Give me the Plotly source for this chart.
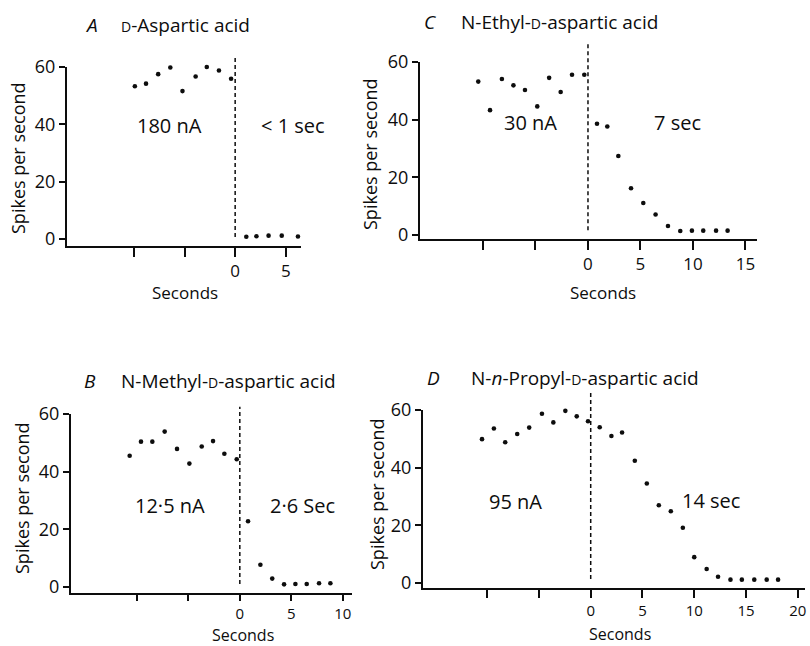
import plotly.graph_objects as go

W, H = 810, 646
FONT = "Open Sans, Lato, sans-serif"
INK = "#0d0d0d"

# ---------------- data (seconds, spikes per second) ----------------
a_t = [-11.1, -9.9, -8.8, -7.6, -6.4, -5.2, -3.9, -2.8, -1.6, -0.4,
       1.1, 2.1, 3.3, 4.6, 6.2]
a_v = [60.3, 53.3, 54.2, 57.5, 59.8, 51.6, 56.7, 60.0, 58.8, 55.9,
       0.8, 1.0, 1.2, 1.2, 0.9]

b_t = [-10.7, -9.6, -8.5, -7.3, -6.1, -4.9, -3.7, -2.6, -1.5, -0.3,
       0.8, 2.0, 3.15, 4.3, 5.4, 6.5, 7.7, 8.8]
b_v = [45.5, 50.4, 50.4, 53.9, 47.9, 42.8, 48.7, 50.6, 46.2, 44.3,
       22.8, 7.7, 2.9, 0.9, 1.0, 1.0, 1.3, 1.3]

c_t = [-10.45, -9.33, -8.2, -7.1, -6.0, -4.83, -3.7, -2.6, -1.52, -0.35,
       0.86, 1.84, 2.89, 4.1, 5.27, 6.44, 7.62, 8.79, 9.9, 10.98, 12.2, 13.3]
c_v = [53.2, 43.3, 54.1, 51.9, 50.3, 44.6, 54.5, 49.6, 55.6, 55.6,
       38.6, 37.6, 27.4, 16.2, 11.1, 7.1, 3.1, 1.4, 1.5, 1.5, 1.5, 1.5]

d_t = [-10.5, -9.35, -8.26, -7.1, -5.94, -4.71, -3.61, -2.45, -1.35, -0.26,
       0.87, 2.0, 3.03, 4.26, 5.42, 6.58, 7.74, 8.9, 10.0, 11.2, 12.3,
       13.5, 14.6, 15.8, 17.0, 18.1]
d_v = [49.9, 53.6, 48.8, 51.7, 53.9, 58.7, 55.7, 59.7, 57.8, 56.1,
       54.0, 51.0, 52.2, 42.4, 34.5, 27.0, 24.9, 19.2, 9.0, 4.9, 2.2,
       1.2, 1.2, 1.2, 1.2, 1.2]

y_ticks = [0, 20, 40, 60]
y_labels = ["0", "20", "40", "60"]

a_xticks = [-10, -5, 0, 5]
a_xlabels = ["", "", "0", "5"]
b_xticks = [-10, -5, 0, 5, 10]
b_xlabels = ["", "", "0", "5", "10"]
c_xticks = [-10, -5, 0, 5, 10, 15]
c_xlabels = ["", "", "0", "5", "10", "15"]
d_xticks = [-10, -5, 0, 5, 10, 15, 20]
d_xlabels = ["", "", "0", "5", "10", "15", "20"]

SC = '<span style="font-size:14px">D</span>'
titles_letter = ["A", "B", "C", "D"]
titles_name = [SC + "-Aspartic acid",
               "N-Methyl-" + SC + "-aspartic acid",
               "N-Ethyl-" + SC + "-aspartic acid",
               "N-<i>n</i>-Propyl-" + SC + "-aspartic acid"]
dose_labels = ["180 nA", "12·5 nA", "30 nA", "95 nA"]
time_labels = ["< 1 sec", "2·6 Sec", "7 sec", "14 sec"]


def px(x):
    return x / W


def py(y):
    return 1 - y / H


# layout geometry per panel (pixel boxes: left, right, top, bottom)
panels = [
    dict(t=a_t, v=a_v, xt=a_xticks, xl=a_xlabels, xr=[-16.6, 6.5], yr=[-2.4, 60],
         box=(67, 301, 67, 246), vtop=1.05, xts=17, xtl=9, xfs=17,
         letter=(91, 25), name=(119, 25), dose=(169, 125), tm=(293, 125),
         xtitle=(185, 292), ytitle=(18, 158)),
    dict(t=b_t, v=b_v, xt=b_xticks, xl=b_xlabels, xr=[-16.4, 10.9], yr=[-2.1, 60],
         box=(71, 352, 414, 593), vtop=1.04, xts=15, xtl=6, xfs=16,
         letter=(90, 381), name=(119, 381), dose=(170, 505), tm=(302, 505),
         xtitle=(243, 634.5), ytitle=(22, 498)),
    dict(t=c_t, v=c_v, xt=c_xticks, xl=c_xlabels, xr=[-16.0, 16.1], yr=[-1.4, 60],
         box=(420, 757, 62, 239), vtop=1.11, xts=17, xtl=9, xfs=17,
         letter=(430, 22), name=(459, 22), dose=(530, 123), tm=(677, 123),
         xtitle=(603, 292), ytitle=(370, 154)),
    dict(t=d_t, v=d_v, xt=d_xticks, xl=d_xlabels, xr=[-16.2, 20.7], yr=[-1.7, 60],
         box=(423, 805, 410, 588), vtop=1.11, xts=15, xtl=8, xfs=16,
         letter=(434, 378), name=(469, 378), dose=(515, 501), tm=(711, 500),
         xtitle=(620, 634), ytitle=(377, 494)),
]

fig = go.Figure()
layout = dict(
    width=W, height=H, margin=dict(l=0, r=0, t=0, b=0, pad=0),
    paper_bgcolor="white", plot_bgcolor="white", showlegend=False,
    font=dict(family=FONT, color=INK),
)
annotations = []
shapes = []

for i, p in enumerate(panels):
    n = "" if i == 0 else str(i + 1)
    xa, ya = "xaxis" + n, "yaxis" + n
    xr_, yr_ = "x" + n, "y" + n
    l, r, t, b = p["box"]
    fig.add_trace(go.Scatter(
        x=p["t"], y=p["v"], mode="markers", xaxis=xr_, yaxis=yr_,
        marker=dict(size=4.6, color=INK), cliponaxis=False, hoverinfo="skip"))
    layout[xa] = dict(
        domain=[px(l), px(r)], range=p["xr"], anchor=yr_, automargin=False,
        showline=True, linewidth=2, linecolor=INK, showgrid=False, zeroline=False,
        ticks="outside", ticklen=p["xtl"], tickwidth=2, tickcolor=INK,
        tickvals=p["xt"], ticktext=p["xl"],
        tickfont=dict(size=p["xts"], family=FONT, color=INK))
    layout[ya] = dict(
        domain=[py(b), py(t)], range=p["yr"], anchor=xr_, automargin=False,
        showline=True, linewidth=2, linecolor=INK, showgrid=False, zeroline=False,
        ticks="outside", ticklen=6, tickwidth=2, tickcolor=INK,
        tickvals=y_ticks, ticktext=y_labels,
        tickfont=dict(size=18, family=FONT, color=INK))
    shapes.append(dict(type="line", xref=xr_, yref=yr_ + " domain",
                       x0=0, x1=0, y0=0.05, y1=p["vtop"],
                       line=dict(color=INK, width=1.5, dash="4px,3px")))

    def ann(pos, text, size=18, anchor="center", angle=0):
        annotations.append(dict(
            x=px(pos[0]), y=py(pos[1]), xref="paper", yref="paper",
            text=text, showarrow=False, xanchor=anchor, yanchor="middle",
            textangle=angle, font=dict(size=size, family=FONT, color=INK)))

    ann(p["letter"], "<i>" + titles_letter[i] + "</i>", size=19)
    ann(p["name"], titles_name[i], size=19, anchor="left")
    ann(p["dose"], dose_labels[i], size=20)
    ann(p["tm"], time_labels[i], size=20)
    ann(p["xtitle"], "Seconds", size=p["xfs"])
    ann(p["ytitle"], "Spikes per second", size=18, angle=-90)

layout["annotations"] = annotations
layout["shapes"] = shapes
fig.update_layout(**layout)
fig.write_html(
    "out.html",
    config={"displayModeBar": False, "staticPlot": True},
    post_script="document.body.style.margin='0px';document.body.style.overflow='hidden';",
)
